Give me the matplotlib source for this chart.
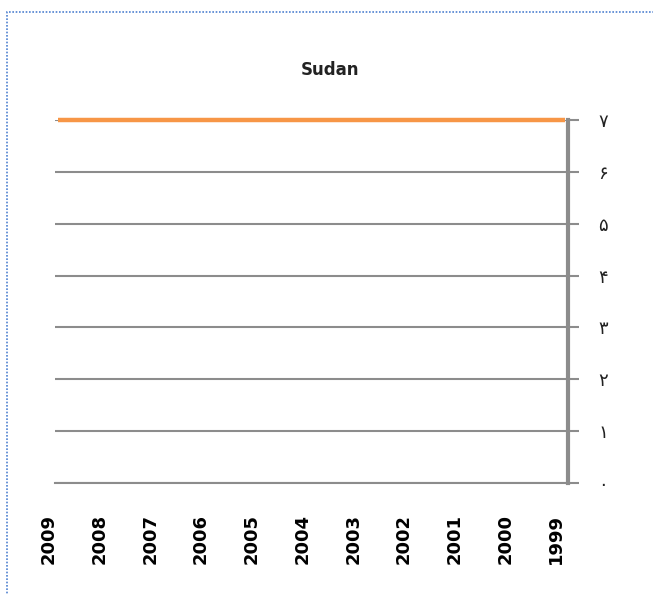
import matplotlib.pyplot as plt
from matplotlib.patches import Rectangle
from matplotlib.transforms import ScaledTranslation

# data
years = ['2009', '2008', '2007', '2006', '2005', '2004', '2003', '2002', '2001', '2000', '1999']
values = [7, 7, 7, 7, 7, 7, 7, 7, 7, 7, 7]
y_ticks = [0, 1, 2, 3, 4, 5, 6, 7]
y_labels = ['۰', '۱', '۲', '۳', '۴', '۵', '۶', '۷']

fig = plt.figure(figsize=(6.53, 5.94), dpi=100)

# dotted chart border like the Excel selection frame
fig.patches.append(Rectangle((7 / 653, -0.05), 1.2, (594 - 12) / 594 + 0.05,
                             transform=fig.transFigure, fill=False,
                             edgecolor='#4f81d0', linestyle=(0, (1, 1)),
                             linewidth=1.2))

ax = fig.add_axes([55 / 653, 1 - 483 / 594, (568 - 55) / 653, (483 - 120) / 594])
x = list(range(len(years)))
ax.plot(x, values, color='#f79646', linewidth=3.2, solid_capstyle='butt',
        zorder=3, clip_on=False)

ax.set_xlim(-0.06, 10.06)
ax.set_ylim(0, 7)

ax.set_yticks(y_ticks)
ax.set_yticklabels(y_labels, fontsize=13, color='#222222', family=['DejaVu Sans'])
ax.yaxis.tick_right()
ax.tick_params(axis='y', length=8, width=1.5, color='#8c8c8c', pad=14)
ax.grid(axis='y', color='#8c8c8c', linewidth=1.5)
ax.set_axisbelow(True)

ax.set_xticks(x)
ax.set_xticklabels(years, rotation=90, fontsize=13, fontweight='bold',
                   family=['DejaVu Sans'])
ax.tick_params(axis='x', length=0, pad=22)
shift = ScaledTranslation(-9 / 100, 0, fig.dpi_scale_trans)
for lbl in ax.get_xticklabels():
    lbl.set_transform(lbl.get_transform() + shift)

for s in ['top', 'left']:
    ax.spines[s].set_visible(False)
ax.spines['right'].set_color('#8c8c8c')
ax.spines['right'].set_linewidth(3)
ax.spines['bottom'].set_color('#8c8c8c')
ax.spines['bottom'].set_linewidth(1.5)

fig.text(330 / 653, 1 - 70 / 594, 'Sudan', ha='center', va='center',
         fontsize=12, fontweight='bold', color='#222222',
         family=['DejaVu Sans'])

fig.savefig('out.png', dpi=100)
